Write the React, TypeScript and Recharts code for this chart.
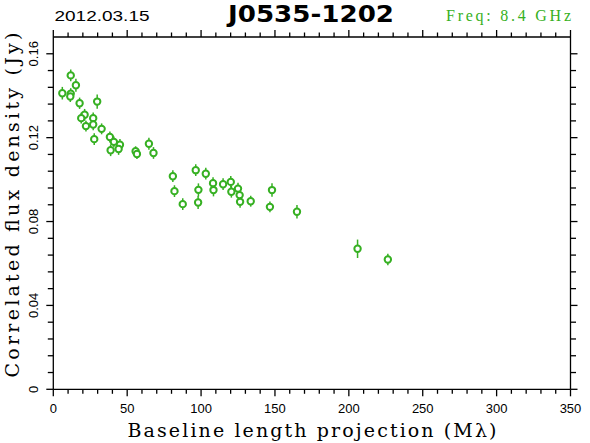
import { ScatterChart, Scatter, XAxis, YAxis, ErrorBar } from "recharts";

const GREEN = "#36b022";

// baseline length projection (Mλ)
const baseline = [
  11.8, 15.3, 6.1, 11.8, 11.5, 17.8, 29.7, 21.2, 18.9, 27.0, 22.1,
  27.0, 32.7, 27.7, 38.3, 41.0, 45.1, 38.8, 44.2, 55.7, 56.6, 64.7,
  67.8, 80.9, 82.0, 87.6, 96.4, 98.2, 98.0, 103.2, 108.1, 108.4, 114.9,
  120.1, 125.0, 120.5, 126.1, 126.4, 133.6, 148.0, 146.6, 164.9, 205.9, 226.4,
];
// correlated flux density (Jy)
const flux = [
  0.1497, 0.145, 0.1412, 0.141, 0.1396, 0.1364, 0.1372, 0.1309, 0.1293, 0.1293, 0.1255,
  0.1263, 0.1242, 0.1193, 0.1203, 0.118, 0.1166, 0.114, 0.1146, 0.1135, 0.1122, 0.1171,
  0.1127, 0.1016, 0.0945, 0.0883, 0.1045, 0.0951, 0.0891, 0.1028, 0.0983, 0.095, 0.0978,
  0.0989, 0.0957, 0.0942, 0.0926, 0.0894, 0.0897, 0.095, 0.087, 0.0847, 0.067, 0.0619,
];
const fluxErr = [
  0.0028, 0.0031, 0.003, 0.0026, 0.0026, 0.0027, 0.0034, 0.0028, 0.0026, 0.0027, 0.0026,
  0.0028, 0.0026, 0.0028, 0.0026, 0.0026, 0.0028, 0.0028, 0.0028, 0.0024, 0.0024, 0.0029,
  0.0028, 0.0028, 0.0028, 0.0028, 0.0028, 0.0031, 0.0031, 0.0028, 0.0028, 0.003, 0.0028,
  0.0028, 0.0028, 0.0028, 0.0026, 0.0028, 0.0026, 0.0032, 0.0026, 0.0032, 0.0044, 0.0027,
];

const xMajor = [0, 50, 100, 150, 200, 250, 300, 350];
const yMajor = [0, 0.04, 0.08, 0.12, 0.16];
const yLabels = ["0", "0.04", "0.08", "0.12", "0.16"];

const xTicks: number[] = [];
for (let i = 0; i <= 35; i++) xTicks.push(i * 10);
const yTicks: number[] = [];
for (let i = 0; i <= 20; i++) yTicks.push(+(i * 0.008).toFixed(3));

const data = baseline.map((x, i) => ({ x, y: flux[i], err: fluxErr[i] }));

const W = 590;
const H = 443;
const LEFT = 53.3;
const RIGHT = 571.5;
const TOP = 36;
const BOTTOM = 389.3;

const isMajorY = (v: number) => yMajor.some((m) => Math.abs(m - v) < 1e-6);
const tickFont = { fontFamily: "Liberation Sans", fontSize: 13, fill: "#000" };

function BottomTick(props: any) {
  const { x, y, payload } = props;
  const major = xMajor.includes(payload.value);
  return (
    <g>
      <path d={`M${x},${y}V${y + (major ? 7 : 4.5)}`} stroke="#000" strokeWidth={1.3} fill="none" />
      {major && (
        <text x={x} y={y + 24} textAnchor="middle" {...tickFont}>
          {payload.value}
        </text>
      )}
    </g>
  );
}

function TopTick(props: any) {
  const { x, y, payload } = props;
  const major = xMajor.includes(payload.value);
  return <path d={`M${x},${y}V${y - (major ? 7 : 4.5)}`} stroke="#000" strokeWidth={1.3} fill="none" />;
}

function LeftTick(props: any) {
  const { x, y, payload } = props;
  const major = isMajorY(payload.value);
  const idx = yMajor.findIndex((m) => Math.abs(m - payload.value) < 1e-6);
  return (
    <g>
      <path d={`M${x},${y}H${x - (major ? 7 : 5.5)}`} stroke="#000" strokeWidth={1.3} fill="none" />
      {major && (
        <text x={38} y={y} textAnchor="middle" transform={`rotate(-90, 38, ${y})`} {...tickFont}>
          {yLabels[idx]}
        </text>
      )}
    </g>
  );
}

function RightTick(props: any) {
  const { x, y, payload } = props;
  const major = isMajorY(payload.value);
  return <path d={`M${x},${y}H${x + (major ? 7 : 5.5)}`} stroke="#000" strokeWidth={1.3} fill="none" />;
}

const Marker = (p: any) => (
  <circle cx={p.cx} cy={p.cy} r={3.2} fill="#fff" stroke={GREEN} strokeWidth={2} />
);
const NoMarker = () => <g />;

const axisLine = { stroke: "#000", strokeWidth: 1.3 };

export default function App() {
  return (
    <div style={{ position: "absolute", left: 0, top: 0, width: W, height: H, background: "#fff" }}>
      <ScatterChart
        width={W}
        height={H}
        margin={{ top: TOP, right: W - RIGHT, left: 0, bottom: 0 }}
      >
        <XAxis
          dataKey="x"
          type="number"
          domain={[0, 350]}
          allowDataOverflow
          ticks={xTicks}
          interval={0}
          tickSize={0}
          tickMargin={0}
          tickLine={false}
          axisLine={axisLine}
          tick={BottomTick}
          height={H - BOTTOM}
        />
        <XAxis
          xAxisId="top"
          dataKey="x"
          orientation="top"
          type="number"
          domain={[0, 350]}
          allowDataOverflow
          ticks={xTicks}
          interval={0}
          tickSize={0}
          tickMargin={0}
          tickLine={false}
          axisLine={axisLine}
          tick={TopTick}
          height={1}
        />
        <YAxis
          dataKey="y"
          type="number"
          domain={[0, 0.168]}
          allowDataOverflow
          ticks={yTicks}
          interval={0}
          tickSize={0}
          tickMargin={0}
          tickLine={false}
          axisLine={axisLine}
          tick={LeftTick}
          width={LEFT}
        />
        <YAxis
          yAxisId="right"
          dataKey="y"
          orientation="right"
          type="number"
          domain={[0, 0.168]}
          allowDataOverflow
          ticks={yTicks}
          interval={0}
          tickSize={0}
          tickMargin={0}
          tickLine={false}
          axisLine={axisLine}
          tick={RightTick}
          width={1}
        />
        <Scatter
          data={data}
          xAxisId="top"
          yAxisId="right"
          shape={NoMarker}
          isAnimationActive={false}
        />
        <Scatter data={data} shape={Marker} isAnimationActive={false}>
          <ErrorBar dataKey="err" direction="y" width={0} stroke={GREEN} strokeWidth={1.5} />
        </Scatter>
      </ScatterChart>
      <svg width={W} height={H} style={{ position: "absolute", left: 0, top: 0, pointerEvents: "none" }}>
        <text x={102} y={21} textAnchor="middle" fontFamily="Liberation Sans" fontSize={15} textLength={95} lengthAdjust="spacingAndGlyphs">
          2012.03.15
        </text>
        <text x={311} y={22} textAnchor="middle" fontFamily="DejaVu Sans" fontWeight="bold" fontSize={23} textLength={166} lengthAdjust="spacingAndGlyphs">
          J0535-1202
        </text>
        <text x={508.5} y={21} textAnchor="middle" fontFamily="Liberation Serif" fontSize={16} fill={GREEN} textLength={125} lengthAdjust="spacing">
          Freq: 8.4 GHz
        </text>
        <text x={312} y={437} textAnchor="middle" fontFamily="DejaVu Serif" fontSize={19} textLength={369} lengthAdjust="spacing">
          Baseline length projection (Mλ)
        </text>
        <text x={19} y={205} textAnchor="middle" transform="rotate(-90, 19, 205)" fontFamily="DejaVu Serif" fontSize={19} textLength={345} lengthAdjust="spacing">
          Correlated flux density (Jy)
        </text>
      </svg>
    </div>
  );
}
